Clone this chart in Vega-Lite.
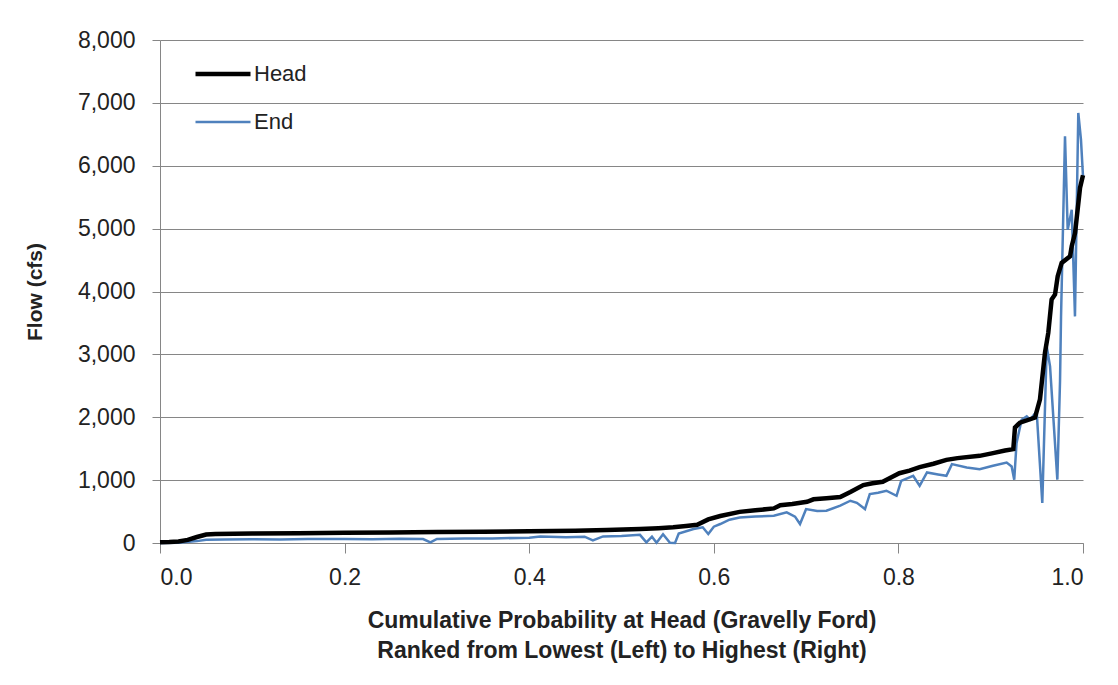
{
  "$schema": "https://vega.github.io/schema/vega-lite/v6.json",
  "width": 923,
  "height": 503,
  "autosize": {"type": "none"},
  "padding": {"left": 160, "top": 40, "right": 35, "bottom": 142},
  "background": "white",
  "datasets": {
    "head": [
      {"p": 0.000, "flow": 10}, {"p": 0.010, "flow": 15}, {"p": 0.020, "flow": 25}, {"p": 0.030, "flow": 50},
      {"p": 0.040, "flow": 95}, {"p": 0.050, "flow": 135}, {"p": 0.060, "flow": 142}, {"p": 0.080, "flow": 146},
      {"p": 0.100, "flow": 150}, {"p": 0.150, "flow": 157}, {"p": 0.200, "flow": 163}, {"p": 0.250, "flow": 168},
      {"p": 0.300, "flow": 173}, {"p": 0.350, "flow": 178}, {"p": 0.400, "flow": 185}, {"p": 0.450, "flow": 195},
      {"p": 0.484, "flow": 206}, {"p": 0.520, "flow": 222}, {"p": 0.540, "flow": 235}, {"p": 0.556, "flow": 250},
      {"p": 0.570, "flow": 270}, {"p": 0.582, "flow": 290}, {"p": 0.594, "flow": 375}, {"p": 0.607, "flow": 430},
      {"p": 0.628, "flow": 495}, {"p": 0.645, "flow": 520}, {"p": 0.665, "flow": 550}, {"p": 0.672, "flow": 600},
      {"p": 0.685, "flow": 620}, {"p": 0.701, "flow": 656}, {"p": 0.708, "flow": 695}, {"p": 0.722, "flow": 710},
      {"p": 0.737, "flow": 730}, {"p": 0.748, "flow": 810}, {"p": 0.762, "flow": 921}, {"p": 0.772, "flow": 950},
      {"p": 0.783, "flow": 974}, {"p": 0.793, "flow": 1050}, {"p": 0.801, "flow": 1110}, {"p": 0.812, "flow": 1150},
      {"p": 0.823, "flow": 1206}, {"p": 0.838, "flow": 1260}, {"p": 0.852, "flow": 1322}, {"p": 0.864, "flow": 1350},
      {"p": 0.888, "flow": 1386}, {"p": 0.9025, "flow": 1430}, {"p": 0.9155, "flow": 1470}, {"p": 0.9245, "flow": 1492},
      {"p": 0.9263, "flow": 1836}, {"p": 0.9317, "flow": 1915}, {"p": 0.948, "flow": 1995}, {"p": 0.9534, "flow": 2286},
      {"p": 0.9588, "flow": 3026}, {"p": 0.9624, "flow": 3344}, {"p": 0.966, "flow": 3873}, {"p": 0.9697, "flow": 3952},
      {"p": 0.9726, "flow": 4243}, {"p": 0.9769, "flow": 4455}, {"p": 0.986, "flow": 4561}, {"p": 0.9878, "flow": 4720},
      {"p": 0.9914, "flow": 4931}, {"p": 0.9968, "flow": 5650}, {"p": 1.000, "flow": 5850}
    ],
    "end": [
      {"p": 0.000, "flow": 0}, {"p": 0.020, "flow": 5}, {"p": 0.040, "flow": 30}, {"p": 0.050, "flow": 50},
      {"p": 0.070, "flow": 55}, {"p": 0.100, "flow": 60}, {"p": 0.130, "flow": 55}, {"p": 0.160, "flow": 62},
      {"p": 0.200, "flow": 65}, {"p": 0.230, "flow": 60}, {"p": 0.260, "flow": 68}, {"p": 0.285, "flow": 62},
      {"p": 0.293, "flow": 10}, {"p": 0.300, "flow": 65}, {"p": 0.330, "flow": 70}, {"p": 0.360, "flow": 72},
      {"p": 0.400, "flow": 85}, {"p": 0.412, "flow": 105}, {"p": 0.440, "flow": 90}, {"p": 0.460, "flow": 100},
      {"p": 0.469, "flow": 40}, {"p": 0.480, "flow": 105}, {"p": 0.500, "flow": 110}, {"p": 0.520, "flow": 130},
      {"p": 0.527, "flow": 10}, {"p": 0.533, "flow": 100}, {"p": 0.538, "flow": 5}, {"p": 0.545, "flow": 140},
      {"p": 0.5525, "flow": 5}, {"p": 0.558, "flow": 0}, {"p": 0.562, "flow": 150}, {"p": 0.578, "flow": 222},
      {"p": 0.588, "flow": 250}, {"p": 0.594, "flow": 143}, {"p": 0.600, "flow": 260}, {"p": 0.607, "flow": 302},
      {"p": 0.617, "flow": 370}, {"p": 0.628, "flow": 407}, {"p": 0.645, "flow": 420}, {"p": 0.665, "flow": 434},
      {"p": 0.679, "flow": 487}, {"p": 0.688, "flow": 420}, {"p": 0.6934, "flow": 302}, {"p": 0.700, "flow": 540},
      {"p": 0.712, "flow": 510}, {"p": 0.722, "flow": 513}, {"p": 0.737, "flow": 593}, {"p": 0.748, "flow": 672},
      {"p": 0.755, "flow": 640}, {"p": 0.7638, "flow": 540}, {"p": 0.769, "flow": 778}, {"p": 0.778, "flow": 800},
      {"p": 0.787, "flow": 831}, {"p": 0.798, "flow": 751}, {"p": 0.803, "flow": 989}, {"p": 0.816, "flow": 1068},
      {"p": 0.823, "flow": 910}, {"p": 0.831, "flow": 1122}, {"p": 0.843, "flow": 1090}, {"p": 0.852, "flow": 1068},
      {"p": 0.858, "flow": 1254}, {"p": 0.874, "flow": 1201}, {"p": 0.888, "flow": 1175}, {"p": 0.9025, "flow": 1228},
      {"p": 0.9173, "flow": 1280}, {"p": 0.9227, "flow": 1218}, {"p": 0.9255, "flow": 1007}, {"p": 0.928, "flow": 1590},
      {"p": 0.9335, "flow": 1961}, {"p": 0.939, "flow": 2014}, {"p": 0.9426, "flow": 1961}, {"p": 0.9498, "flow": 2093},
      {"p": 0.9559, "flow": 636}, {"p": 0.9607, "flow": 3127}, {"p": 0.9643, "flow": 2809}, {"p": 0.9722, "flow": 1007},
      {"p": 0.9751, "flow": 2570}, {"p": 0.9762, "flow": 3604}, {"p": 0.9805, "flow": 6467}, {"p": 0.9834, "flow": 4983},
      {"p": 0.9878, "flow": 5301}, {"p": 0.9913, "flow": 3604}, {"p": 0.9949, "flow": 6839}, {"p": 0.9978, "flow": 6414},
      {"p": 1.000, "flow": 5830}
    ]
  },
  "config": {
    "font": "Liberation Sans",
    "view": {"stroke": null},
    "axis": {
      "labelFont": "Liberation Sans",
      "titleFont": "Liberation Sans",
      "labelColor": "#222222",
      "titleColor": "#222222",
      "domainColor": "#868686",
      "tickColor": "#868686",
      "gridColor": "#868686"
    }
  },
  "layer": [
    {
      "data": {"name": "end"},
      "transform": [{"calculate": "'End'", "as": "series"}],
      "mark": {"type": "line", "interpolate": "linear"},
      "encoding": {
        "x": {"field": "p", "type": "quantitative"},
        "y": {"field": "flow", "type": "quantitative"},
        "color": {"field": "series", "type": "nominal"},
        "strokeWidth": {"field": "series", "type": "nominal"}
      }
    },
    {
      "data": {"name": "head"},
      "transform": [{"calculate": "'Head'", "as": "series"}],
      "mark": {"type": "line", "interpolate": "linear"},
      "encoding": {
        "x": {
          "field": "p", "type": "quantitative",
          "scale": {"domain": [0, 1], "nice": false},
          "axis": {
            "values": [0, 0.2, 0.4, 0.6, 0.8, 1.0],
            "format": ".1f",
            "grid": false,
            "tickSize": 10,
            "labelFontSize": 23,
            "labelPadding": 13,
            "title": ["Cumulative Probability at Head (Gravelly Ford)", "Ranked from Lowest (Left) to Highest (Right)"],
            "titleFontSize": 23,
            "titleFontWeight": "bold",
            "titleLineHeight": 30,
            "titlePadding": 20
          }
        },
        "y": {
          "field": "flow", "type": "quantitative",
          "scale": {"domain": [0, 8000], "nice": false},
          "axis": {
            "values": [0, 1000, 2000, 3000, 4000, 5000, 6000, 7000, 8000],
            "format": ",.0f",
            "grid": true,
            "tickSize": 8,
            "labelFontSize": 23,
            "labelPadding": 17,
            "title": "Flow (cfs)",
            "titleFontSize": 21,
            "titleFontWeight": "bold",
            "titleX": -125,
            "titleY": 251.5,
            "titleAlign": "center",
            "titleBaseline": "middle",
            "titleAngle": -90
          }
        },
        "color": {
          "field": "series", "type": "nominal",
          "scale": {"domain": ["Head", "End"], "range": ["#000000", "#4F81BD"]},
          "legend": {
            "title": null,
            "orient": "none",
            "legendX": 33,
            "legendY": 4,
            "symbolType": "stroke",
            "symbolSize": 3025,
            "labelFontSize": 22,
            "labelColor": "#222222",
            "labelOffset": 1,
            "rowPadding": 8
          }
        },
        "strokeWidth": {
          "field": "series", "type": "nominal",
          "scale": {"domain": ["Head", "End"], "range": [4.5, 2.5]},
          "legend": {
            "title": null,
            "orient": "none",
            "legendX": 33,
            "legendY": 4,
            "symbolType": "stroke",
            "symbolSize": 3025,
            "labelFontSize": 22,
            "labelColor": "#222222",
            "labelOffset": 1,
            "rowPadding": 8
          }
        }
      }
    }
  ]
}
